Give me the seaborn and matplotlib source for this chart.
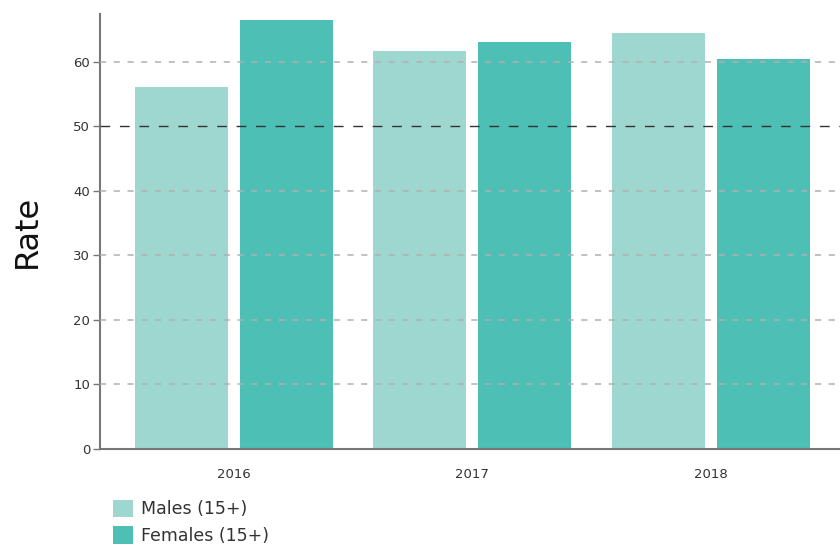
import matplotlib
matplotlib.use("Agg")
import matplotlib.pyplot as plt
import seaborn as sns
import pandas as pd
from matplotlib.patches import Patch

# values
years = ["2016", "2017", "2018"]
males = [56.1, 61.7, 64.5]
females = [66.4, 63.1, 60.5]
series_names = ["Males (15+)", "Females (15+)"]
y_ticks = [0, 10, 20, 30, 40, 50, 60]
colors = ["#9dd7cf", "#4dbfb5"]

df = pd.DataFrame({
    "Year": years * 2,
    "Rate": males + females,
    "Group": [series_names[0]] * 3 + [series_names[1]] * 3,
})

sns.set_style("white")
plt.rcParams["font.family"] = ["DejaVu Sans"]

fig = plt.figure(figsize=(8.4, 5.45), dpi=100)
ax = fig.add_axes([100 / 840, 1 - 449 / 545, 1 - 100 / 840, (449 - 14) / 545])

sns.barplot(data=df, x="Year", y="Rate", hue="Group", palette=colors,
            width=0.88, gap=0.116, saturation=1, ax=ax, legend=False,
            edgecolor="none", zorder=2)

ax.set_xlim(-0.56, 2.54)
ax.set_ylim(0, 67.4)
ax.set_yticks(y_ticks)
ax.set_yticklabels([str(t) for t in y_ticks], fontsize=9.5, color="#333333")
ax.tick_params(axis="y", length=5, width=1, color="#777777", pad=2, left=True)
ax.tick_params(axis="x", length=0, labelsize=9.5, labelcolor="#333333", pad=14)
ax.set_xlabel("")
ax.set_ylabel("Rate", fontsize=23, color="#111111", labelpad=22)

for t in y_ticks[1:]:
    if t == 50:
        ax.axhline(t, color="#333333", lw=1, ls=(0, (7, 7)), zorder=3)
    else:
        ax.axhline(t, color="#b0b0b0", lw=1.1, ls=(0, (4, 5)), zorder=3)

for side in ["top", "right"]:
    ax.spines[side].set_visible(False)
for side in ["left", "bottom"]:
    ax.spines[side].set_color("#777777")
    ax.spines[side].set_linewidth(1.5)

handles = [Patch(facecolor=c, edgecolor="none") for c in colors]
fig.legend(handles, series_names, loc="upper left",
           bbox_to_anchor=(113 / 840, 1 - 500 / 545), frameon=False,
           borderpad=0, borderaxespad=0,
           fontsize=12.5, handlelength=1.15, handleheight=1.15,
           handletextpad=0.45, labelspacing=0.45, labelcolor="#333333")

fig.savefig("out.png", dpi=100)
